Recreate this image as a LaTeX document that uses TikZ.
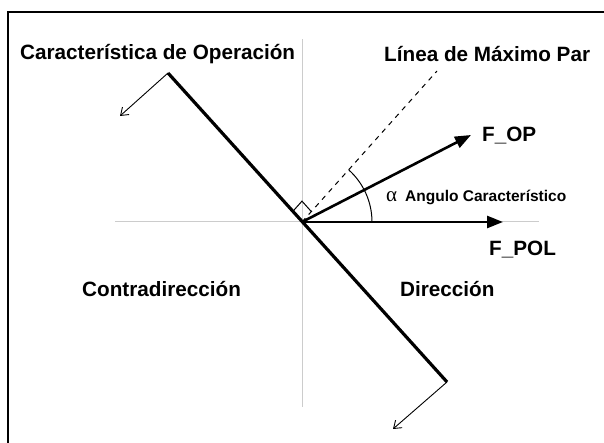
\documentclass[tikz,border=0pt]{standalone}
\usepackage{fontspec}
\setmainfont{Liberation Sans}
\newfontfamily\greekfont{Liberation Serif}
\usetikzlibrary{arrows.meta, positioning, calc}
\tikzset{
    >=Stealth,
    % Lines
    axis/.style={gray!40, line width=1pt},
    charLine/.style={line width=3.2pt},
    torqueLine/.style={dash pattern=on 5pt off 5pt, line width=1pt},
    vec/.style={-{Triangle[length=16pt, width=12pt]}, line width=2.6pt},
    side/.style={-{Straight Barb[length=7pt, width=10pt]}, line width=0.9pt},
    % Labels
    lbl/.style={font=\fontsize{20.7}{24}\selectfont\bfseries, inner sep=0pt, anchor=base west},
    smallLbl/.style={font=\fontsize{15.5}{18}\selectfont\bfseries, inner sep=0pt, anchor=base west}
}

\begin{document}
\begin{tikzpicture}[x=1pt, y=1pt]
\useasboundingbox (0,0) rectangle (604,443);

% Frame
\draw[line width=1.8pt] (8,-10) -- (8,431) -- (614,431);

% Points
\coordinate (O) at (302,221);
\coordinate (xL) at (115,221);
\coordinate (xR) at (539,221);
\coordinate (yT) at (302,404);
\coordinate (yB) at (302,36);
\coordinate (cTop) at (168,370);
\coordinate (cBot) at (447,61);
\coordinate (aTop) at (120,327);
\coordinate (aBot) at (393,14);
\coordinate (mTop) at (437,372);
\coordinate (opTip) at (471,308);
\coordinate (polTip) at (503,221);

% Axes
\draw[axis] (xL) -- (xR);
\draw[axis] (yB) -- (yT);

% Characteristic and maximum torque lines
\draw[torqueLine] (O) -- (mTop);
\draw[charLine] (cTop) -- (cBot);
\draw[side] (cTop) -- (aTop);
\draw[side] (cBot) -- (aBot);

% Right angle mark
\coordinate (ra1) at ($(O)!14pt!(cTop)$);
\coordinate (ra2) at ($(O)!14pt!(mTop)$);
\coordinate (ra3) at ($(ra1)+(ra2)-(O)$);
\draw[line width=1pt] (ra1) -- (ra3) -- (ra2);

% Angle
\draw[line width=1pt] ($(O)+(70,0)$) arc[start angle=0, end angle=48, radius=70pt];

% Vectors
\draw[vec] (O) -- (polTip);
\draw[vec] (O) -- (opTip);

% Labels
\node[lbl] (opChar) at (20,383.5) {Característica de Operación};
\node[lbl] (maxPar) at (384,381.5) {Línea de Máximo Par};
\node[lbl] (fop) at (482,301) {F\_OP};
\node[lbl] (fpol) at (489,187) {F\_POL};
\node[lbl, font=\fontsize{21}{24}\selectfont\greekfont] (alphaSym) at (386,241) {α};
\node[smallLbl] (angLbl) at (405,241) {Angulo Característico};
\node[lbl] (contra) at (82,146) {Contradirección};
\node[lbl] (dir) at (400,146) {Dirección};

\end{tikzpicture}
\end{document}
